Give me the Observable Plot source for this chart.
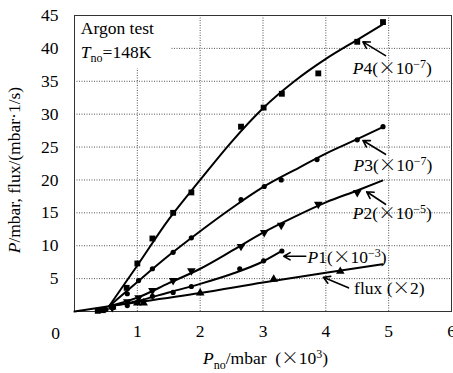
<!DOCTYPE html>
<html><head><meta charset="utf-8">
<script src="https://cdn.jsdelivr.net/npm/d3@7"></script>
<script src="https://cdn.jsdelivr.net/npm/@observablehq/plot@0.6"></script>
<style>body{margin:0;background:#fff} svg{display:block}</style>
</head><body><div id="chart"></div>
<script>
// ---- tick values ----
const xTicks = [1, 2, 3, 4, 5, 6];
const yTicks = [5, 10, 15, 20, 25, 30, 35, 40, 45];
const xGrid = [1, 2, 3, 4, 5];
const yGrid = [5, 10, 15, 20, 25, 30, 35, 40];

// ---- measured points ----
const p4X = [0.37, 0.45, 0.83, 1.0, 1.24, 1.57, 1.86, 2.65, 3.01, 3.3, 3.88, 4.5, 4.91];
const p4Y = [0.1, 0.2, 3.6, 7.3, 11.1, 15.0, 18.1, 28.1, 31.0, 33.1, 36.2, 41.0, 44.0];
const p3X = [0.6, 0.84, 1.02, 1.24, 1.57, 1.86, 2.65, 3.02, 3.29, 3.86, 4.5, 4.91];
const p3Y = [0.6, 2.7, 4.7, 6.5, 9.0, 11.2, 17.0, 19.0, 20.0, 23.1, 26.1, 28.1];
const p2X = [0.6, 0.84, 1.02, 1.24, 1.57, 1.86, 2.65, 3.02, 3.29, 3.88, 4.5];
const p2Y = [0.6, 1.5, 2.1, 3.2, 4.7, 6.2, 9.9, 12.0, 13.1, 16.3, 18.1];
const p1X = [0.5, 0.62, 0.84, 1.0, 1.24, 1.57, 1.86, 2.63, 3.01, 3.3];
const p1Y = [0.3, 0.6, 0.9, 1.4, 2.3, 2.9, 3.8, 6.5, 7.7, 9.2];
const fluxX = [0.6, 1.0, 1.1, 2.0, 3.17, 4.23];
const fluxY = [0.7, 1.3, 1.3, 2.8, 4.9, 6.1];

// ---- fitted curves ----
const baseX = [0, 0.55];
const baseY = [0, 0.8];
const p4FitX = [0.55, 1, 1.5, 2, 2.5, 3, 3.5, 4, 4.5, 4.9];
const p4FitY = [0.8, 7.0, 14.0, 20.0, 25.8, 30.9, 35.0, 38.4, 41.3, 43.6];
const p3FitX = [0.55, 1, 1.5, 2, 2.5, 3, 3.5, 4, 4.5, 4.9];
const p3FitY = [0.8, 4.5, 8.5, 12.2, 15.7, 18.9, 21.5, 24.0, 26.2, 28.0];
const p2FitX = [0.55, 1, 1.5, 2, 2.5, 3, 3.5, 4, 4.5, 4.9];
const p2FitY = [0.8, 2.1, 4.3, 6.5, 9.2, 12.0, 14.4, 16.6, 18.4, 19.9];
const p1FitX = [0.55, 1, 1.5, 2, 2.5, 3, 3.3];
const p1FitY = [0.8, 1.6, 2.9, 4.2, 5.7, 7.6, 9.2];
const fluxFitX = [0.55, 1, 2, 3, 4, 4.9];
const fluxFitY = [0.8, 1.4, 2.8, 4.4, 5.9, 7.2];

// ---- annotations ----
const labelText = ["*P*4(×10^−7^)", "*P*3(×10^−7^)", "*P*2(×10^−5^)", "*P*1(×10^−3^)", "flux (×2)"];
const labelX = [4.43, 4.44, 4.43, 3.71, 4.45];
const labelY = [36.9, 22.2, 14.9, 8.2, 3.5];
const arrowX1 = [4.95, 4.95, 4.95, 3.68, 4.36];
const arrowY1 = [38.9, 23.9, 16.3, 8.4, 3.6];
const arrowX2 = [4.59, 4.59, 4.65, 3.33, 3.96];
const arrowY2 = [41.0, 26.0, 18.2, 8.4, 5.2];
const noteText = ["Argon test", "*T*_no_=148K"];
const noteX = [0.1, 0.1];
const noteY = [43.0, 39.4];
const noteBox = [{x1: 0, x2: 1.53, y1: 36.9, y2: 45}];
const yLabel = "*P*/mbar, flux/(mbar·1/s)";
const xLabel = "*P*_no_/mbar  (×10^3^)";

const pts = (X, Y) => X.map((x, i) => ({x, y: Y[i]}));
const labels = labelText.map((t, i) => ({t, x: labelX[i], y: labelY[i]}));
const arrows = arrowX1.map((x1, i) => ({x1, y1: arrowY1[i], x2: arrowX2[i], y2: arrowY2[i]}));
const notes = noteText.map((t, i) => ({t, x: noteX[i], y: noteY[i]}));

const FS = 17.5;
const lineOpts = {x: "x", y: "y", stroke: "#000", strokeWidth: 2, curve: "monotone-x"};
const fits = [[p4FitX, p4FitY], [p3FitX, p3FitY], [p2FitX, p2FitY], [p1FitX, p1FitY], [fluxFitX, fluxFitY]];

const chart = Plot.plot({
  width: 453, height: 373,
  marginLeft: 74, marginRight: 2, marginTop: 15, marginBottom: 62,
  x: {domain: [0, 6]},
  y: {domain: [0, 45]},
  style: {fontFamily: "'Liberation Serif', 'Times New Roman', serif", fontSize: FS + "px", color: "#000", background: "#fff", overflow: "visible"},
  marks: [
    Plot.gridX(xGrid, {stroke: "#555", strokeOpacity: 1, strokeDasharray: "1,1.5"}),
    Plot.gridY(yGrid, {stroke: "#555", strokeOpacity: 1, strokeDasharray: "1,1.5"}),
    Plot.rect(noteBox, {x1: "x1", x2: "x2", y1: "y1", y2: "y2", fill: "#fff"}),
    Plot.frame({stroke: "#333", strokeWidth: 1}),
    Plot.axisX(xTicks, {tickSize: 0, tickPadding: 13, label: null, fontSize: FS}),
    Plot.axisY(yTicks, {tickSize: 0, tickPadding: 16, label: null, fontSize: FS}),
    Plot.text(["0"], {x: 0, y: 0, dx: -19, dy: 22, fontSize: FS}),
    Plot.line(pts(baseX, baseY), {...lineOpts, curve: "linear"}),
    ...fits.map(([X, Y]) => Plot.line(pts(X, Y), lineOpts)),
    Plot.dot(pts(p4X, p4Y), {x: "x", y: "y", symbol: "square", r: 3.3, fill: "#000"}),
    Plot.dot(pts(p3X, p3Y), {x: "x", y: "y", symbol: "circle", r: 2.6, fill: "#000"}),
    Plot.dot(pts(p2X, p2Y), {x: "x", y: "y", symbol: "triangle", r: 3.2, rotate: 180, fill: "#000"}),
    Plot.dot(pts(p1X, p1Y), {x: "x", y: "y", symbol: "circle", r: 2.6, fill: "#000"}),
    Plot.dot(pts(fluxX, fluxY), {x: "x", y: "y", symbol: "triangle", r: 3.2, fill: "#000"}),
    Plot.arrow(arrows, {x1: "x1", y1: "y1", x2: "x2", y2: "y2", stroke: "#000", strokeWidth: 1.6, headLength: 7}),
    Plot.text(labels, {x: "x", y: "y", text: "t", textAnchor: "start", fontSize: FS}),
    Plot.text(notes, {x: "x", y: "y", text: "t", textAnchor: "start", fontSize: FS}),
    Plot.text([yLabel], {x: 0, y: 21.5, text: d => d, dx: -60, rotate: -90, fontSize: FS}),
    Plot.text([xLabel], {x: 3.04, y: 0, text: d => d, dy: 47, fontSize: FS})
  ]
});
document.getElementById("chart").appendChild(chart);

// rich text: *italic*, ^superscript^, _subscript_, and a wide × glyph
const NS = "http://www.w3.org/2000/svg";
chart.querySelectorAll("text").forEach(el => {
  if (el.querySelector("tspan")) return;
  const raw = el.textContent;
  if (!/[*^_×]/.test(raw)) return;
  const parts = raw.split(/(\*[^*]*\*|\^[^^]*\^|_[^_]*_|×)/).filter(s => s);
  el.textContent = "";
  el.style.whiteSpace = "pre";
  let shift = 0;
  for (const p of parts) {
    const ts = document.createElementNS(NS, "tspan");
    let target = 0;
    if (p === "×") { ts.setAttribute("font-family", "'Noto Sans CJK SC', sans-serif"); ts.setAttribute("font-weight", "300"); ts.textContent = p; }
    else if (p[0] === "*") { ts.setAttribute("font-style", "italic"); ts.textContent = p.slice(1, -1); }
    else if (p[0] === "^") { ts.setAttribute("font-size", "12"); target = -6.5; ts.textContent = p.slice(1, -1); }
    else if (p[0] === "_") { ts.setAttribute("font-size", "12"); target = 4.5; ts.textContent = p.slice(1, -1); }
    else ts.textContent = p;
    if (target !== shift) { ts.setAttribute("dy", target - shift); shift = target; }
    el.appendChild(ts);
  }
});
</script>
</body></html>
